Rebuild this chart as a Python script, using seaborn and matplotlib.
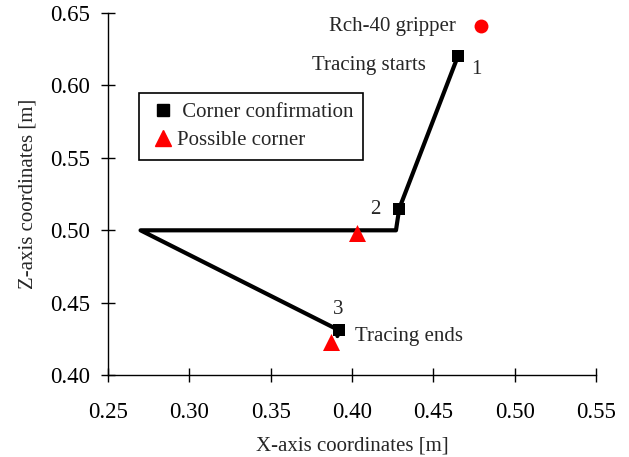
import numpy as np
import pandas as pd
import matplotlib
matplotlib.use("Agg")
import matplotlib.pyplot as plt
import seaborn as sns
from matplotlib.lines import Line2D

# traced path of the gripper (x, z) in metres
path_x = [0.465, 0.429, 0.427, 0.270, 0.392, 0.391]
path_z = [0.620, 0.515, 0.500, 0.500, 0.431, 0.427]

corner_x = [0.465, 0.429, 0.392]
corner_z = [0.620, 0.515, 0.431]
corner_ids = ["1", "2", "3"]

possible_x = [0.403, 0.387]
possible_z = [0.498, 0.423]

gripper_x = [0.479]
gripper_z = [0.641]

xticks = [0.25, 0.30, 0.35, 0.40, 0.45, 0.50, 0.55]
zticks = [0.40, 0.45, 0.50, 0.55, 0.60, 0.65]

sns.set_style("ticks")
plt.rcParams["font.family"] = ["Liberation Serif", "DejaVu Serif"]

fig = plt.figure(figsize=(6.29, 4.57), dpi=100)
ax = fig.add_axes([0.1717, 0.179, 0.776, 0.7926])

df = pd.DataFrame({"x": path_x, "z": path_z})
sns.lineplot(data=df, x="x", y="z", sort=False, estimator=None, color="black",
             lw=3, solid_joinstyle="round", solid_capstyle="round", ax=ax)
sns.scatterplot(x=corner_x, y=corner_z, marker="s", s=80, color="black",
                edgecolor="black", linewidth=0, ax=ax, zorder=5)
sns.scatterplot(x=possible_x, y=possible_z, marker="^", s=150, color="red",
                edgecolor="red", linewidth=0, ax=ax, zorder=6)
sns.scatterplot(x=gripper_x, y=gripper_z, marker="o", s=100, color="red",
                edgecolor="red", linewidth=0, ax=ax, zorder=6)

fs = 15
ax.text(0.4765, 0.611, corner_ids[0], fontsize=fs, ha="center", va="center")
ax.text(0.414, 0.5145, corner_ids[1], fontsize=fs, ha="center", va="center")
ax.text(0.3915, 0.445, corner_ids[2], fontsize=fs, ha="center", va="center")
ax.text(0.4636, 0.641, "Rch-40 gripper", fontsize=fs, ha="right", va="center")
ax.text(0.4455, 0.6135, "Tracing starts", fontsize=fs, ha="right", va="center")
ax.text(0.402, 0.4265, "Tracing ends", fontsize=fs, ha="left", va="center")

ax.set_xlim(0.25, 0.55)
ax.set_ylim(0.40, 0.65)
ax.set_xticks(xticks)
ax.set_yticks(zticks)
ax.set_xticklabels([f"{v:.2f}" for v in xticks])
ax.set_yticklabels([f"{v:.2f}" for v in zticks])
ax.tick_params(direction="inout", length=10, width=1, labelsize=16.5,
               colors="black")
ax.tick_params(axis="x", pad=14)
ax.tick_params(axis="y", pad=8)
for s in ["top", "right"]:
    ax.spines[s].set_visible(False)
for s in ["left", "bottom"]:
    ax.spines[s].set_color("black")
    ax.spines[s].set_linewidth(1)

ax.set_xlabel("X-axis coordinates [m]", fontsize=15, labelpad=10)
ax.set_ylabel("Z-axis coordinates [m]", fontsize=15, labelpad=9)

handles = [
    Line2D([], [], marker="s", color="black", ls="none", markersize=9),
    Line2D([], [], marker="^", color="red", ls="none", markersize=11),
]
leg = ax.legend(handles, [" Corner confirmation", "Possible corner"],
                loc="upper left", bbox_to_anchor=(0.063, 0.778),
                borderaxespad=0, fontsize=15, frameon=True, fancybox=False,
                framealpha=1, edgecolor="black", handletextpad=0.0,
                handlelength=1.4, labelspacing=0.4, borderpad=0.45)
leg.get_frame().set_linewidth(1.2)

fig.savefig("out.png", dpi=100)
